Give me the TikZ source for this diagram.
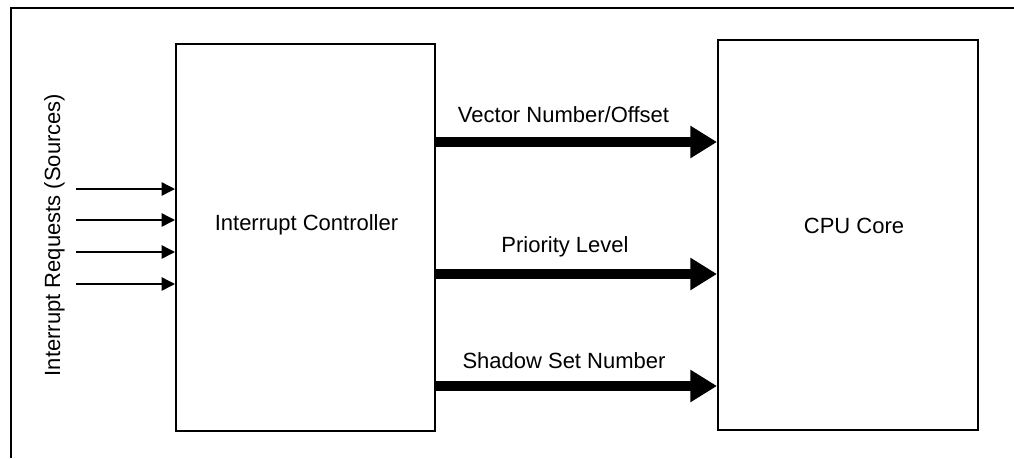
\documentclass[tikz,border=0pt]{standalone}
\usepackage{fontspec}
\setmainfont{Liberation Sans}
\usetikzlibrary{arrows.meta,positioning}

\begin{document}
\begin{tikzpicture}[x=0.75pt, y=-0.75pt, font=\fontsize{16.5}{20}\selectfont,
    block/.style={draw, line width=1.5pt, inner sep=0pt},
    req/.style={-{Triangle[length=10pt,width=10pt]}, line width=1.1pt},
    bus/.style={-{Triangle[length=20pt,width=23pt]}, line width=7.5pt}]
        \useasboundingbox (0,0) rectangle (1014,458);

        % outer frame
        \draw[line width=1.5pt] (11,458) -- (11,8) -- (1014,8);

        % Interrupt controller block
        \node[block, minimum width=194.25pt, minimum height=290.25pt] (ic) at (305.5,237.5) {};
        \node[anchor=base] (ictext) at (306.5,230) {Interrupt Controller};

        % CPU core block
        \node[block, minimum width=195pt, minimum height=292.5pt] (cpu) at (848,235) {};
        \node[anchor=base] (cputext) at (854,233) {CPU Core};

        % Interrupt requests
        \node[rotate=90, anchor=base] (reqtext) at (60,235) {Interrupt Requests (Sources)};
        \foreach \y [count=\i] in {189,220,252,284} {
            \coordinate (r\i) at (76,\y);
            \draw[req] (r\i) -- (r\i -| ic.west);
        }

        % Buses: controller -> CPU
        \draw[bus] (ic.east |- 0,142) -- (cpu.west |- 0,142);
        \node[anchor=base] (vec) at (563.5,122) {Vector Number/Offset};

        \draw[bus] (ic.east |- 0,274) -- (cpu.west |- 0,274);
        \node[anchor=base] (prio) at (565,252) {Priority Level};

        \draw[bus] (ic.east |- 0,386) -- (cpu.west |- 0,386);
        \node[anchor=base] (shadow) at (564,368) {Shadow Set Number};
    \end{tikzpicture}
\end{document}
